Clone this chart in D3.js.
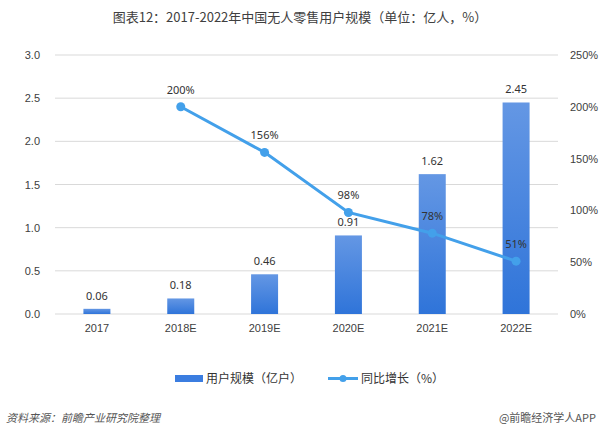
<!DOCTYPE html>
<html>
<meta charset="utf-8">
<title>中国无人零售用户规模</title>
<style>
  body { margin: 0; background: #fff; }
  svg { font-family: "Noto Sans", "Noto Sans CJK SC", sans-serif; }
  .grid line { stroke: #d9d9d9; }
  .axis text { fill: #404040; font-size: 11px; }
</style>
<body>
<div id="chart"></div>
<script src="https://d3js.org/d3.v7.min.js"></script>
<script>
const years = ['2017', '2018E', '2019E', '2020E', '2021E', '2022E'];
const users = [0.06, 0.18, 0.46, 0.91, 1.62, 2.45];
const growth = [null, 200, 156, 98, 78, 51];
const leftTicks = [0, 0.5, 1, 1.5, 2, 2.5, 3];
const rightTicks = [0, 50, 100, 150, 200, 250];

const width = 600, height = 436;
const margin = {top: 55, right: 42, bottom: 122, left: 55};

const svg = d3.select('#chart').append('svg')
  .attr('width', width)
  .attr('height', height);

const x = d3.scaleBand().domain(years)
  .range([margin.left, width - margin.right]);
const y = d3.scaleLinear().domain([0, 3])
  .range([height - margin.bottom, margin.top]);
const y2 = d3.scaleLinear().domain([0, 250])
  .range([height - margin.bottom, margin.top]);

const defs = svg.append('defs');
const grad = defs.append('linearGradient').attr('id', 'barGrad')
  .attr('x1', 0).attr('y1', 0).attr('x2', 0).attr('y2', 1);
grad.append('stop').attr('offset', '0%').attr('stop-color', '#6497e4');
grad.append('stop').attr('offset', '100%').attr('stop-color', '#2f74d9');

// title
svg.append('text')
  .attr('x', 300).attr('y', 22)
  .attr('text-anchor', 'middle')
  .style('font-family', '"Noto Sans CJK SC", sans-serif')
  .style('font-size', '13px')
  .style('fill', '#404040')
  .text('图表12：2017-2022年中国无人零售用户规模（单位：亿人，%）');

// grid
svg.append('g').attr('class', 'grid')
  .selectAll('line').data(leftTicks).enter().append('line')
  .attr('x1', margin.left).attr('x2', width - margin.right)
  .attr('y1', d => y(d)).attr('y2', d => y(d));

// left axis
svg.append('g').attr('class', 'axis')
  .attr('transform', `translate(${margin.left - 15},0)`)
  .call(d3.axisLeft(y).tickValues(leftTicks).tickFormat(d3.format('.1f')).tickSize(0).tickPadding(0))
  .call(g => g.select('.domain').remove());

// right axis
svg.append('g').attr('class', 'axis')
  .attr('transform', `translate(${width - margin.right + 12},0)`)
  .call(d3.axisRight(y2).tickValues(rightTicks).tickFormat(d => d + '%').tickSize(0).tickPadding(0))
  .call(g => g.select('.domain').remove());

// x axis
svg.append('g').attr('class', 'axis')
  .attr('transform', `translate(0,${height - margin.bottom + 10})`)
  .call(d3.axisBottom(x).tickSize(0).tickPadding(0))
  .call(g => g.select('.domain').remove())
  .selectAll('text').attr('dy', '0.75em');

// bars
const bw = 27;
svg.append('g').selectAll('rect').data(users).enter().append('rect')
  .attr('x', (d, i) => x(years[i]) + x.bandwidth() / 2 - bw / 2)
  .attr('y', d => y(d))
  .attr('width', bw)
  .attr('height', d => y(0) - y(d))
  .attr('fill', 'url(#barGrad)');

svg.append('g').selectAll('text').data(users).enter().append('text')
  .attr('x', (d, i) => x(years[i]) + x.bandwidth() / 2)
  .attr('y', d => y(d) - 9)
  .attr('text-anchor', 'middle')
  .style('font-size', '11px')
  .style('fill', '#333')
  .text(d => d.toFixed(2));

// line
const pts = growth.map((d, i) => ({year: years[i], v: d})).filter(d => d.v != null);
const line = d3.line()
  .x(d => x(d.year) + x.bandwidth() / 2)
  .y(d => y2(d.v));

svg.append('path').datum(pts)
  .attr('d', line)
  .attr('fill', 'none')
  .attr('stroke', '#43a0ea')
  .attr('stroke-width', 3);

svg.append('g').selectAll('circle').data(pts).enter().append('circle')
  .attr('cx', d => x(d.year) + x.bandwidth() / 2)
  .attr('cy', d => y2(d.v))
  .attr('r', 4.5)
  .attr('fill', '#43a0ea');

svg.append('g').selectAll('text').data(pts).enter().append('text')
  .attr('x', d => x(d.year) + x.bandwidth() / 2)
  .attr('y', d => y2(d.v) - 13)
  .attr('text-anchor', 'middle')
  .style('font-size', '11px')
  .style('fill', '#333')
  .text(d => d.v + '%');

// legend
const lg = svg.append('g').style('font-family', '"Noto Sans CJK SC", sans-serif')
  .style('font-size', '12px').style('fill', '#333');
lg.append('rect').attr('x', 175).attr('y', 375).attr('width', 28).attr('height', 7).attr('fill', '#3b7de0');
lg.append('text').attr('x', 206).attr('y', 383).text('用户规模（亿户）');
lg.append('line').attr('x1', 328).attr('x2', 358).attr('y1', 378.5).attr('y2', 378.5)
  .attr('stroke', '#43a0ea').attr('stroke-width', 3);
lg.append('circle').attr('cx', 343).attr('cy', 378.5).attr('r', 3.5).attr('fill', '#43a0ea');
lg.append('text').attr('x', 361).attr('y', 383).text('同比增长（%）');

// footer
svg.append('text')
  .attr('x', 6).attr('y', 422)
  .style('font-family', '"Noto Sans CJK SC", sans-serif')
  .style('font-size', '11px').style('font-style', 'italic')
  .style('fill', '#555')
  .text('资料来源：前瞻产业研究院整理');
svg.append('text')
  .attr('x', 596).attr('y', 422)
  .attr('text-anchor', 'end')
  .style('font-family', '"Noto Sans CJK SC", sans-serif')
  .style('font-size', '11px')
  .style('fill', '#555')
  .text('@前瞻经济学人APP');
</script>
</body>
</html>
